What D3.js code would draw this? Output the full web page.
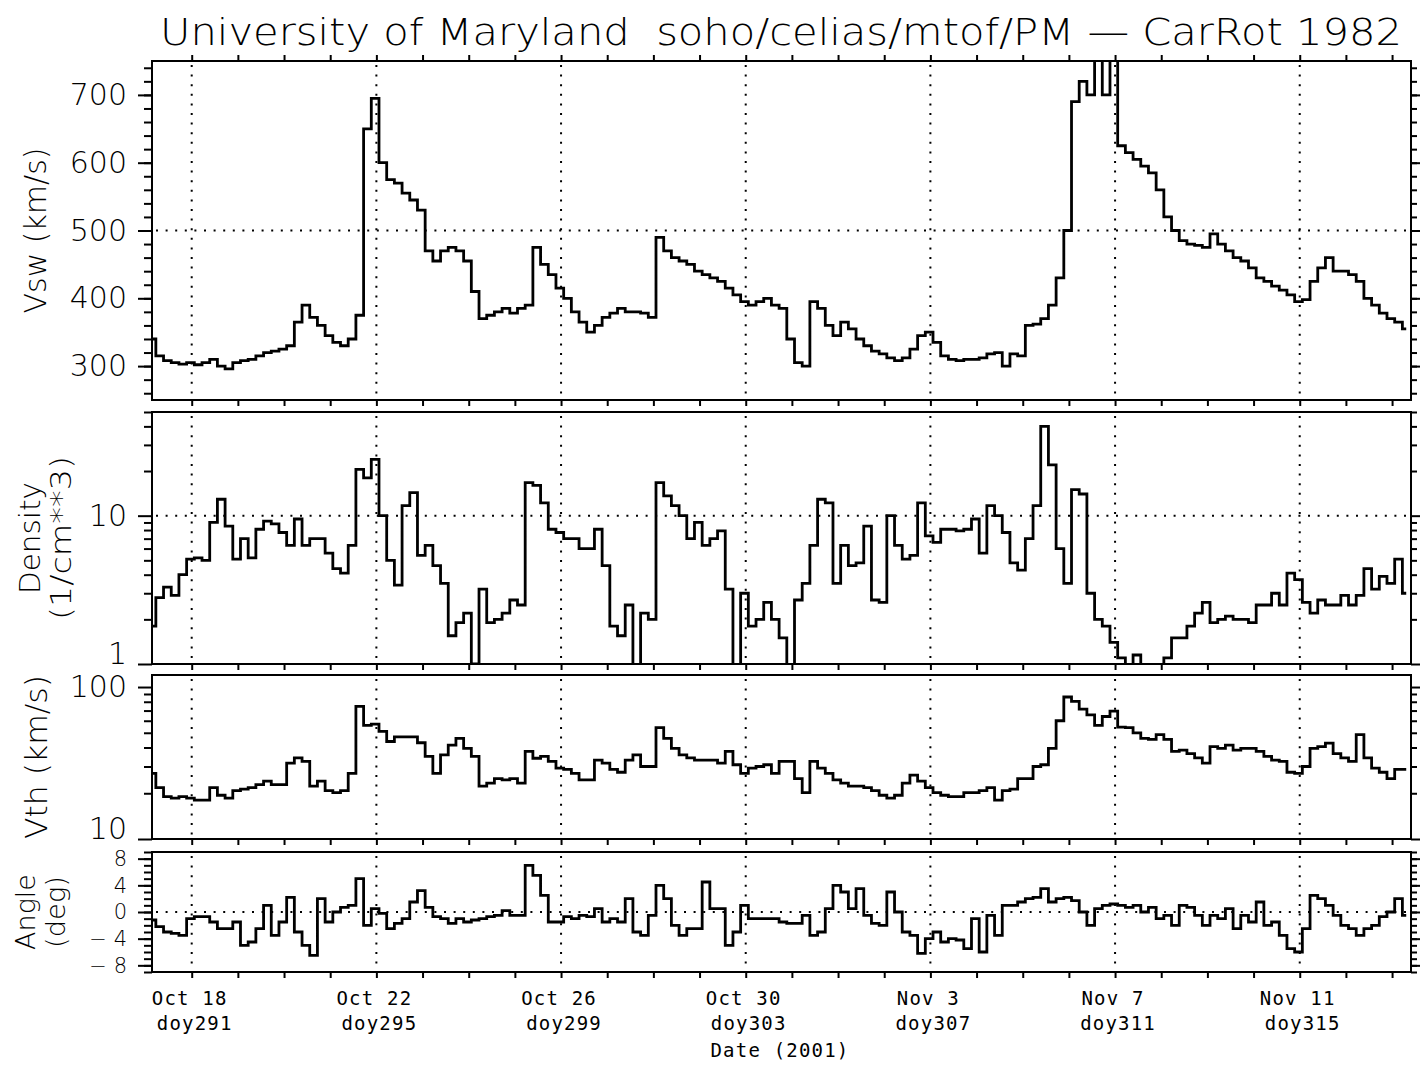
<!DOCTYPE html>
<html>
<head>
<meta charset="utf-8">
<script src="https://cdn.jsdelivr.net/npm/d3@7"></script>
<style>
  body { margin: 0; background: #fff; }
  svg { display: block; }
</style>
</head>
<body>
<svg id="chart" width="1420" height="1067"></svg>
<script>
// ---- Carrington rotation 1982, day-of-year 2001 ----
const rotationStart = 290.14;   // doy at left edge
const rotationEnd = 317.41;     // doy at right edge
const sampleStep = 1 / 6;       // 4-hour averages

// Proton bulk speed (km/s)
const vswValues = [
  340,315,308,305,303,305,302,305,310,300,
  296,305,308,310,315,320,322,325,330,365,
  390,372,360,345,335,330,340,375,650,695,
  600,575,570,555,545,530,470,455,470,475,
  470,455,410,370,375,380,385,378,385,390,
  475,450,435,415,400,380,365,350,360,372,
  378,385,380,380,378,372,490,470,460,455,
  450,440,435,430,425,415,405,395,390,395,
  400,390,385,340,305,300,395,385,360,345,
  365,355,340,330,322,318,312,308,312,325,
  345,350,335,315,310,308,310,310,312,318,
  320,300,318,315,360,362,370,390,430,500,
  690,720,700,760,700,760,625,615,605,595,
  585,560,520,500,485,480,478,475,495,480,
  470,460,455,445,430,425,418,412,405,395,
  398,425,445,460,440,440,435,425,400,390,
  378,370,365,355
];

// Proton density (1/cm^3)
const densityValues = [
  1.8,2.8,3.3,2.9,4.0,5.1,5.2,5.0,9,12.9,
  8.5,5.1,7,5.2,8.1,9.2,8.8,7.7,6.3,9.5,
  6.3,7,7,5.6,4.4,4.1,6.3,20.5,18,24,
  10,5,3.4,11.7,14.3,5.4,6.3,4.6,3.5,1.55,
  1.9,2.2,1.0,3.2,1.9,2,2.2,2.7,2.5,16.7,
  16,12.2,8.1,7.7,7,
  7,6,6,8.1,4.6,1.8,1.55,2.5,0.9,2.2,
  2,16.7,13.6,11.7,10,7,9,6.3,7,7.9,
  3.2,0.9,3.0,1.8,2,2.6,2,1.5,0.9,2.7,
  3.5,6.3,12.9,12.2,3.5,6.3,4.6,4.8,8.5,2.7,
  2.6,10,6.3,5.1,5.4,12.2,7.3,6.6,8.1,8.1,
  7.9,8.1,9.5,5.6,11.7,
  10,7.7,4.8,4.3,7,11.7,40,22,6,3.5,
  15,14,3,2.0,1.8,1.4,1.1,0.9,1.15,0.9,
  0.9,0.9,1.1,1.5,1.5,1.8,2.2,2.6,1.9,2,
  2.1,2,2,1.9,2.5,2.5,3.0,2.5,4.1,3.7,
  2.6,2.2,2.7,2.5,2.5,2.9,2.5,2.9,4.4,3.2,
  3.9,3.5,5.1,3.0
];

// Proton thermal speed (km/s)
const vthValues = [
  27,21.8,19,18.6,19,18.6,18,18,21.8,19.4,
  18.6,20.8,21.3,21.8,22.8,24,22.8,22.8,31.6,34.2,
  32.4,22.3,24,20.8,20.2,20.8,27,74.5,56,57,
  51,43.8,47,47,47,43,35,27,35.8,41.5,
  46,39.5,35,22.3,23.3,25,24.5,25,23.3,37.7,
  34,35,32.4,29.3,28.7,27,24.5,24.5,33,31.6,
  28.7,27.5,33,35.8,30,30,54,46,39.5,35.8,
  34.2,33,33,33,31.6,37.7,30.8,27,29.3,30,
  30.8,27,32.4,
  32.4,25,20.2,32.4,29.3,27,24.5,23.3,22.3,22.3,
  21.8,20.8,19.4,18.6,19.4,23.3,26.3,24,21.8,20.2,
  19.4,19,19,20.2,20.2,20.8,21.8,18,20.8,21.3,
  25,25,30,30.8,39.5,60,86,80.5,71.5,65.5,
  56,64,69.5,54.5,54,50,46,45.3,48.6,45.3,
  37.7,38.5,36.5,34.2,31.6,40.5,39.5,41.5,38.5,39.5,
  39.5,37.7,35,33,32.4,27.5,27,30,39.5,40.5,
  42.7,36.5,34.2,32.4,48.6,34.2,29.3,27.5,25,28.7,
  28.7
];

// Flow angle (deg)
const angleValues = [
  -1.2,-2.2,-3,-3.2,-3.5,-1,-0.7,-0.7,-1.5,-2.5,
  -2.5,-1.5,-5,-4.5,-2.5,1,-3.5,-1.5,2.2,-3,
  -5,-6.5,2,-1.5,0,0.7,1,5,-2,0.5,
  -0.2,-2.5,-1.7,-1,1.5,3.2,0.7,-0.7,-1,-1.7,
  -1,-1.5,-1.2,-1,-0.7,-0.5,0.2,-0.5,-0.5,7,
  5.5,2.5,-1.5,-1.5,-0.7,-1,-0.5,-0.7,0.5,-1.5,
  -1,-1.5,2,-3,-3.5,-0.5,4,2,-2,-3.5,
  -2.5,-2.5,4.5,0.5,0.5,-5,-3,1,-1,-1,
  -1,-1,-1.5,
  -1.7,-1.7,-0.5,-3.5,-3,0.5,4,3,0.5,3.5,
  -0.5,-1.7,-2,3,0,-3,-3.5,-6.2,-4,-3,
  -4.5,-4,-4.2,-5.5,-1,-6,-0.5,-3.5,1,1,
  1.5,2,2.2,3.5,1.5,2,2.2,1.7,0,-2,
  0.5,1,1.2,1,0.7,1,0,0.7,-1,-0.5,
  -2,1,0.7,-0.5,-2,-0.5,-1,0.5,-2.5,-0.5,
  -1.5,1.5,-2,-1.5,-3.5,-5.5,-6,-2.5,2.5,2,
  1,-0.5,-2,-2.5,-3.5,-2.5,-2,-0.7,0,2,
  -0.5
];

// Axis ticks and labels
const majorTickDoys = [291, 295, 299, 303, 307, 311, 315];
const dateLabels = ["Oct 18", "Oct 22", "Oct 26", "Oct 30", "Nov 3", "Nov 7", "Nov 11"];
const doyLabels = ["doy291", "doy295", "doy299", "doy303", "doy307", "doy311", "doy315"];
const vswTicks = [300, 400, 500, 600, 700];
const densityTicks = [1, 10];
const vthTicks = [10, 100];
const angleTicks = [-8, -4, 0, 4, 8];

const titleText = "University of Maryland\u00a0\u00a0soho/celias/mtof/PM \u2014 CarRot 1982";
const xTitle = "Date (2001)";

// ---- drawing ----
const LIGHT = '"DejaVu Sans", "Liberation Sans", sans-serif';
const MONO = '"DejaVu Sans Mono", "Liberation Mono", monospace';
const svg = d3.select("#chart");
const X0 = 152, X1 = 1411;
const x = d3.scaleLinear().domain([rotationStart, rotationEnd]).range([X0, X1]);
const times = vswValues.map((_, i) => rotationStart + i * sampleStep);

const panels = [
  { id: "vsw", values: vswValues, log: false, domain: [250, 750], top: 61, bottom: 400,
    major: vswTicks, minor: d3.range(260, 750, 20), grid: 500,
    titles: [{ text: "Vsw (km/s)", x: 46, len: 166 }], fontSize: 30, tickFont: 30 },
  { id: "den", values: densityValues, log: true, domain: [1, 50], top: 412, bottom: 664,
    major: densityTicks, minor: [2,3,4,5,6,7,8,9,20,30,40,50], grid: 10,
    titles: [{ text: "Density", x: 40, len: 112 }, { text: "(1/cm**3)", x: 71, len: 164 }], fontSize: 28, tickFont: 30 },
  { id: "vth", values: vthValues, log: true, domain: [10, 120], top: 675, bottom: 839,
    major: vthTicks, minor: [20,30,40,50,60,70,80,90], grid: null,
    titles: [{ text: "Vth (km/s)", x: 47, len: 164 }], fontSize: 30, tickFont: 30 },
  { id: "ang", values: angleValues, log: false, domain: [-9, 9], top: 852, bottom: 972,
    major: angleTicks, minor: d3.range(-9, 10, 1), grid: 0,
    titles: [{ text: "Angle", x: 35, len: 76 }, { text: "(deg)", x: 65, len: 72 }], fontSize: 26, tickFont: 21,
    fmt: d => d < 0 ? "\u2212\u00a0" + Math.abs(d) : String(d) }
];

function cleanAxis(g) {
  g.select(".domain").remove();
  g.selectAll(".tick line").attr("stroke", "#000").attr("stroke-width", 2);
}

panels.forEach(p => {
  const y = (p.log ? d3.scaleLog() : d3.scaleLinear()).domain(p.domain).range([p.bottom, p.top]);
  const g = svg.append("g").attr("class", "panel-" + p.id);

  g.append("clipPath").attr("id", "clip-" + p.id)
    .append("rect").attr("x", X0).attr("y", p.top).attr("width", X1 - X0).attr("height", p.bottom - p.top);

  // dotted reference lines
  g.append("g").selectAll("line").data(majorTickDoys).join("line")
    .attr("x1", d => x(d)).attr("x2", d => x(d))
    .attr("y1", p.top + 4).attr("y2", p.bottom)
    .attr("stroke", "#000").attr("stroke-width", 2).attr("stroke-dasharray", "2,7.6");
  if (p.grid !== null) {
    g.append("line")
      .attr("x1", X0 + 4).attr("x2", X1).attr("y1", y(p.grid)).attr("y2", y(p.grid))
      .attr("stroke", "#000").attr("stroke-width", 2).attr("stroke-dasharray", "2,7.6");
  }

  // data trace
  const line = d3.line().x((d, i) => x(times[i])).y(d => y(d)).curve(d3.curveStep);
  g.append("path").datum(p.values)
    .attr("clip-path", "url(#clip-" + p.id + ")")
    .attr("d", line).attr("fill", "none").attr("stroke", "#000")
    .attr("stroke-width", 2.8).attr("stroke-linejoin", "miter");

  // frame
  g.append("rect").attr("x", X0).attr("y", p.top).attr("width", X1 - X0).attr("height", p.bottom - p.top)
    .attr("fill", "none").attr("stroke", "#000").attr("stroke-width", 2);

  // left axis
  const left = g.append("g").attr("transform", `translate(${X0},0)`)
    .call(d3.axisLeft(y).tickValues(p.major).tickSize(14).tickPadding(11)
      .tickFormat(p.fmt || (d => String(d))));
  cleanAxis(left);
  left.attr("font-size", p.tickFont).attr("font-family", LIGHT).attr("font-weight", 200);
  left.selectAll("text").attr("fill", "#000").attr("y", d => d === p.domain[0] ? -10 : 0);
  const leftMinor = g.append("g").attr("transform", `translate(${X0},0)`)
    .call(d3.axisLeft(y).tickValues(p.minor).tickSize(8).tickFormat(""));
  cleanAxis(leftMinor);

  // right axis
  const right = g.append("g").attr("transform", `translate(${X1},0)`)
    .call(d3.axisRight(y).tickValues(p.major).tickSize(9).tickFormat(""));
  cleanAxis(right);
  const rightMinor = g.append("g").attr("transform", `translate(${X1},0)`)
    .call(d3.axisRight(y).tickValues(p.minor).tickSize(6).tickFormat(""));
  cleanAxis(rightMinor);

  // bottom day ticks
  const bottom = g.append("g").attr("transform", `translate(0,${p.bottom})`)
    .call(d3.axisBottom(x).tickValues(d3.range(291, 318)).tickSize(6).tickFormat(""));
  cleanAxis(bottom);

  // axis title(s)
  const cy = (p.top + p.bottom) / 2;
  p.titles.forEach(t => {
    g.append("text")
      .attr("transform", `translate(${t.x},${cy}) rotate(-90)`)
      .attr("text-anchor", "middle")
      .attr("font-family", LIGHT).attr("font-weight", 200).attr("font-size", p.fontSize)
      .attr("textLength", t.len).attr("lengthAdjust", "spacingAndGlyphs")
      .text(t.text);
  });
});

// top axis ticks of the first panel
const topAxis = svg.append("g").attr("transform", `translate(0,${panels[0].top})`)
  .call(d3.axisTop(x).tickValues(d3.range(291, 318)).tickSize(6).tickFormat(""));
cleanAxis(topAxis);

// date labels below the last panel
const labels = svg.append("g").attr("font-family", MONO).attr("font-size", 19)
  .attr("letter-spacing", 1.2).attr("text-anchor", "middle").attr("fill", "#000");
labels.selectAll(".date").data(majorTickDoys).join("text").attr("class", "date")
  .attr("x", d => x(d) - 2).attr("y", 1005).text((d, i) => dateLabels[i]);
labels.selectAll(".doy").data(majorTickDoys).join("text").attr("class", "doy")
  .attr("x", d => x(d) + 3).attr("y", 1030).text((d, i) => doyLabels[i]);
labels.append("text").attr("x", 780).attr("y", 1057).text(xTitle);

// title
svg.append("text").attr("x", 781).attr("y", 45).attr("text-anchor", "middle")
  .attr("font-family", LIGHT).attr("font-weight", 200).attr("font-size", 38)
  .attr("textLength", 1242).attr("lengthAdjust", "spacingAndGlyphs")
  .text(titleText);
</script>
</body>
</html>
